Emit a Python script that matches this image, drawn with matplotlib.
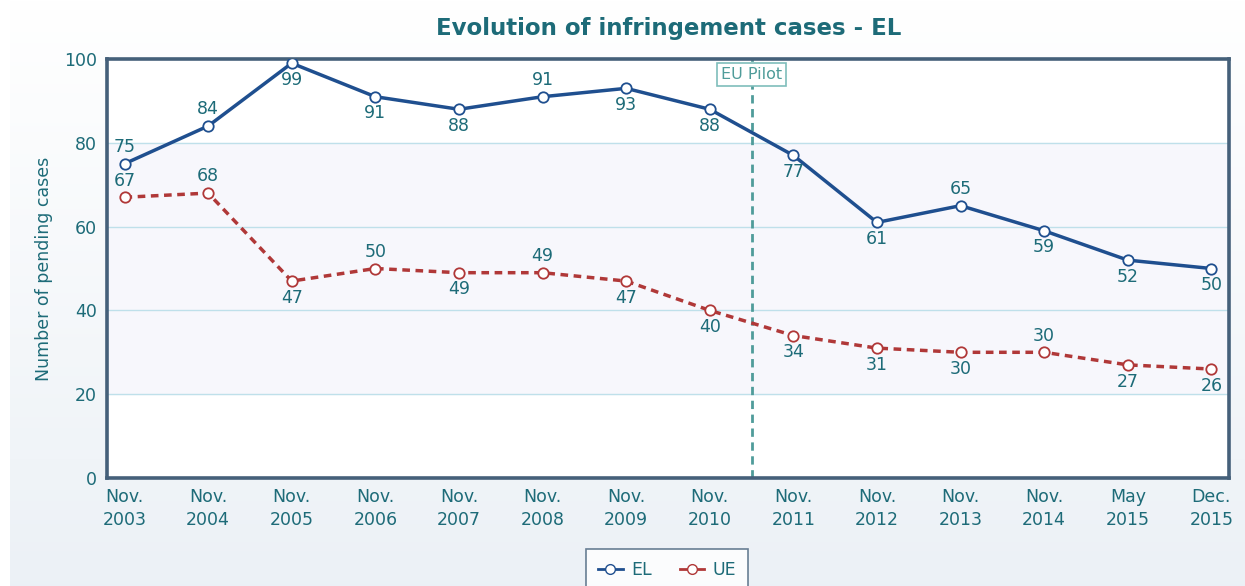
import numpy as np
import matplotlib
matplotlib.use("Agg")
import matplotlib.pyplot as plt
from matplotlib.lines import Line2D

periods = ["Nov.\n2003", "Nov.\n2004", "Nov.\n2005", "Nov.\n2006", "Nov.\n2007",
           "Nov.\n2008", "Nov.\n2009", "Nov.\n2010", "Nov.\n2011", "Nov.\n2012",
           "Nov.\n2013", "Nov.\n2014", "May\n2015", "Dec.\n2015"]
el_cases = [75, 84, 99, 91, 88, 91, 93, 88, 77, 61, 65, 59, 52, 50]
ue_cases = [67, 68, 47, 50, 49, 49, 47, 40, 34, 31, 30, 30, 27, 26]
# label placement: True = above the point
el_above = [True, True, False, False, False, True, False, False, False, False, True, False, False, False]
ue_above = [True, True, False, True, False, True, False, False, False, False, False, True, False, False]
pilot_pos = 7.5

TEAL = "#1d6b78"
EL_COL = "#1f4f8f"
UE_COL = "#b03838"
FRAME = "#45607a"
FS = 12.5

fig = plt.figure(figsize=(12.45, 5.86), dpi=100)

# page background: white to pale blue-grey gradient
bg = fig.add_axes([0.008, 0, 0.992, 1], zorder=-10)
grad = np.linspace(0, 1, 256).reshape(-1, 1)
top = np.array([1.0, 1.0, 1.0])
bot = np.array([0.925, 0.945, 0.965])
img = top + (bot - top) * grad[..., None]
bg.imshow(img, aspect="auto", extent=[0, 1, 0, 1], origin="upper")
bg.axis("off")

ax = fig.add_axes([0.0859, 0.1843, 0.9012, 0.715])
x = np.arange(len(periods))
ax.set_xlim(-0.21, len(periods) - 1 + 0.21)
ax.set_ylim(0, 100)
ax.set_facecolor("white")
ax.axhspan(20, 80, color="#f7f7fc", zorder=0)
for yv in (20, 40, 60, 80):
    ax.axhline(yv, color="#bfe0ea", lw=1, zorder=1)

ax.plot(x, el_cases, color=EL_COL, lw=2.5, marker="o", ms=7.5,
        mfc="white", mec=EL_COL, mew=1.3, zorder=4)
ax.plot(x, ue_cases, color=UE_COL, lw=2.5, ls=(0, (2.2, 1.6)), marker="o", ms=7.5,
        mfc="white", mec=UE_COL, mew=1.3, zorder=3)

for xi, v, up in zip(x, el_cases, el_above):
    ax.annotate(str(v), (xi, v), xytext=(0, 12 if up else -12), textcoords="offset points",
                ha="center", va="center", fontsize=FS, color=TEAL, zorder=5)
for xi, v, up in zip(x, ue_cases, ue_above):
    ax.annotate(str(v), (xi, v), xytext=(0, 12 if up else -12), textcoords="offset points",
                ha="center", va="center", fontsize=FS, color=TEAL, zorder=5)

ax.axvline(pilot_pos, color="#4f9c9a", lw=2, ls=(0, (3, 2)), zorder=2)
ax.text(pilot_pos, 96.3, "EU Pilot", ha="center", va="center", fontsize=11.5, color="#4f9c9a",
        bbox=dict(boxstyle="square,pad=0.25", fc="white", ec="#7fbdbb", lw=1.2), zorder=6)

ax.set_xticks(x)
ax.set_xticklabels(periods, fontsize=FS, color=TEAL, linespacing=1.4)
ax.set_yticks([0, 20, 40, 60, 80, 100])
ax.set_yticklabels(["0", "20", "40", "60", "80", "100"], fontsize=FS, color=TEAL)
ax.tick_params(axis="x", length=0, pad=7)
ax.tick_params(axis="y", length=0, pad=7)
for s in ax.spines.values():
    s.set_color(FRAME)
    s.set_linewidth(2.6)

ax.set_ylabel("Number of pending cases", fontsize=FS, color=TEAL, labelpad=8)
fig.text(0.537, 0.952, "Evolution of infringement cases - EL", ha="center", va="center",
         fontsize=16.5, fontweight="bold", color=TEAL)

handles = [Line2D([], [], color=EL_COL, lw=2, marker="o", ms=7, mfc="white", mec=EL_COL),
           Line2D([], [], color=UE_COL, lw=2, marker="o", ms=7, mfc="white", mec=UE_COL)]
leg = fig.legend(handles, ["EL", "UE"], loc="upper center", bbox_to_anchor=(0.536, 0.078),
                 ncol=2, frameon=True, fancybox=False, fontsize=FS, handlelength=1.4,
                 columnspacing=1.6, borderpad=0.7, handletextpad=0.5)
leg.get_frame().set_edgecolor(FRAME)
leg.get_frame().set_linewidth(1.2)
for t in leg.get_texts():
    t.set_color(TEAL)

fig.savefig("out.png", dpi=100)
